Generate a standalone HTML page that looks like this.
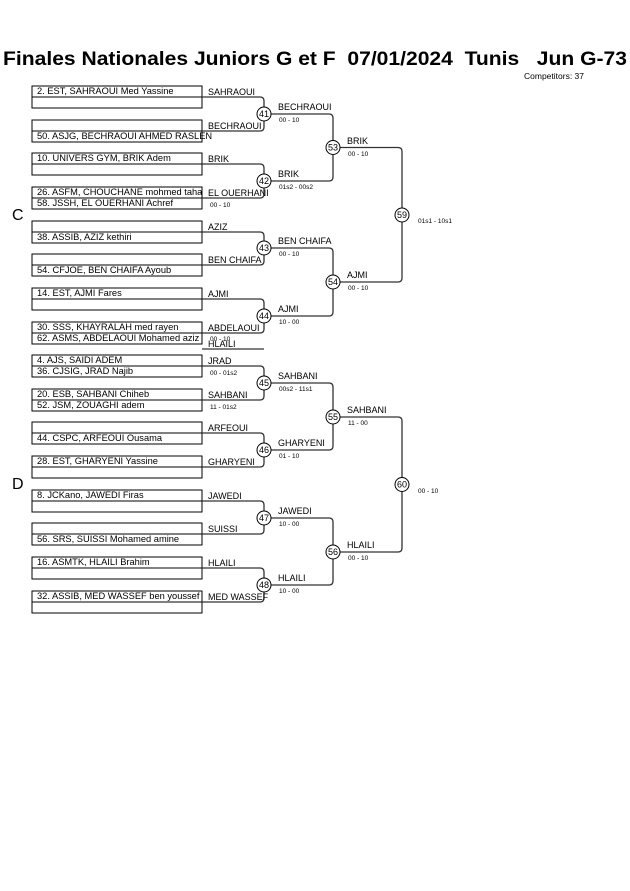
<!DOCTYPE html>
<html><head><meta charset="utf-8"><style>
html,body{margin:0;padding:0;background:#fff;}
svg{display:block;font-family:"Liberation Sans",Arial,sans-serif;}
.b{fill:none;stroke:#000;stroke-width:1}
.l{fill:none;stroke:#333;stroke-width:1.3}
.c{fill:#fff;stroke:#000;stroke-width:1}
.n{font-size:9.3px;fill:#000}
.w{font-size:9px;fill:#000}
.s{font-size:6.5px;fill:#000}
.cn{font-size:9px;fill:#000;text-anchor:middle}
.pre{white-space:pre}
</style></head><body>
<svg width="630" height="891" viewBox="0 0 630 891">
<text class="pre" x="3" y="65" font-size="19.5" font-weight="bold" textLength="624" lengthAdjust="spacingAndGlyphs" xml:space="preserve">Finales Nationales Juniors G et F  07/01/2024  Tunis   Jun G-73</text>
<text x="524" y="79" font-size="8.5">Competitors: 37</text>
<text x="12" y="220" font-size="16">C</text>
<text x="12" y="489" font-size="16">D</text>

<g class="b">
<rect x="32" y="86" width="170" height="22"/><line x1="32" y1="97" x2="202" y2="97"/>
<rect x="32" y="120" width="170" height="22"/><line x1="32" y1="131" x2="202" y2="131"/>
<rect x="32" y="153" width="170" height="22"/><line x1="32" y1="164" x2="202" y2="164"/>
<rect x="32" y="187" width="170" height="22"/><line x1="32" y1="198" x2="202" y2="198"/>
<rect x="32" y="221" width="170" height="22"/><line x1="32" y1="232" x2="202" y2="232"/>
<rect x="32" y="254" width="170" height="22"/><line x1="32" y1="265" x2="202" y2="265"/>
<rect x="32" y="288" width="170" height="22"/><line x1="32" y1="299" x2="202" y2="299"/>
<rect x="32" y="322" width="170" height="22"/><line x1="32" y1="333" x2="202" y2="333"/>
<rect x="32" y="355" width="170" height="22"/><line x1="32" y1="366" x2="202" y2="366"/>
<rect x="32" y="389" width="170" height="22"/><line x1="32" y1="400" x2="202" y2="400"/>
<rect x="32" y="422" width="170" height="22"/><line x1="32" y1="433" x2="202" y2="433"/>
<rect x="32" y="456" width="170" height="22"/><line x1="32" y1="467" x2="202" y2="467"/>
<rect x="32" y="490" width="170" height="22"/><line x1="32" y1="501" x2="202" y2="501"/>
<rect x="32" y="523" width="170" height="22"/><line x1="32" y1="534" x2="202" y2="534"/>
<rect x="32" y="557" width="170" height="22"/><line x1="32" y1="568" x2="202" y2="568"/>
<rect x="32" y="591" width="170" height="22"/><line x1="32" y1="602" x2="202" y2="602"/>
</g>
<line x1="202" y1="349" x2="264" y2="349" stroke="#333" stroke-width="1.3"/>

<g class="l">
<path d="M202 97H260Q264 97 264 101V107"/><path d="M202 131H260Q264 131 264 127V121"/>
<path d="M202 164H260Q264 164 264 168V174"/><path d="M202 198H260Q264 198 264 194V188"/>
<path d="M202 232H260Q264 232 264 236V241"/><path d="M202 265H260Q264 265 264 261V255"/>
<path d="M202 299H260Q264 299 264 303V309"/><path d="M202 333H260Q264 333 264 329V323"/>
<path d="M202 366H260Q264 366 264 370V376"/><path d="M202 400H260Q264 400 264 396V390"/>
<path d="M202 433H260Q264 433 264 437V443"/><path d="M202 467H260Q264 467 264 463V457"/>
<path d="M202 501H260Q264 501 264 505V511"/><path d="M202 534H260Q264 534 264 530V525"/>
<path d="M202 568H260Q264 568 264 572V578"/><path d="M202 602H260Q264 602 264 598V592"/>
<path d="M271 114H329Q333 114 333 118V140"/><path d="M271 181H329Q333 181 333 177V155"/>
<path d="M271 248H329Q333 248 333 252V275"/><path d="M271 316H329Q333 316 333 312V289"/>
<path d="M271 383H329Q333 383 333 387V410"/><path d="M271 450H329Q333 450 333 446V424"/>
<path d="M271 518H329Q333 518 333 522V545"/><path d="M271 585H329Q333 585 333 581V559"/>
<path d="M340 147.5H398Q402 147.5 402 151.5V208"/><path d="M340 282H398Q402 282 402 278V222"/>
<path d="M340 417H398Q402 417 402 421V477"/><path d="M340 552H398Q402 552 402 548V492"/>
</g>

<g class="c">
<circle cx="264" cy="114" r="7"/><circle cx="264" cy="181" r="7"/><circle cx="264" cy="248" r="7"/><circle cx="264" cy="316" r="7"/>
<circle cx="264" cy="383" r="7"/><circle cx="264" cy="450" r="7"/><circle cx="264" cy="518" r="7"/><circle cx="264" cy="585" r="7"/>
<circle cx="333" cy="147.5" r="7"/><circle cx="333" cy="282" r="7"/><circle cx="333" cy="417" r="7"/><circle cx="333" cy="552" r="7"/>
<circle cx="402" cy="215" r="7"/><circle cx="402" cy="484.5" r="7"/>
</g>
<g class="cn">
<text x="264" y="117">41</text><text x="264" y="184">42</text><text x="264" y="251">43</text><text x="264" y="319">44</text>
<text x="264" y="386">45</text><text x="264" y="453">46</text><text x="264" y="521">47</text><text x="264" y="588">48</text>
<text x="333" y="150.5">53</text><text x="333" y="285">54</text><text x="333" y="420">55</text><text x="333" y="555">56</text>
<text x="402" y="218">59</text><text x="402" y="487.5">60</text>
</g>

<g class="n">
<text x="37" y="94">2. EST, SAHRAOUI Med Yassine</text>
<text x="37" y="139">50. ASJG, BECHRAOUI AHMED RASLEN</text>
<text x="37" y="161">10. UNIVERS GYM, BRIK Adem</text>
<text x="37" y="195">26. ASFM, CHOUCHANE mohmed taha</text>
<text x="37" y="206">58. JSSH, EL OUERHANI Achref</text>
<text x="37" y="240">38. ASSIB, AZIZ kethiri</text>
<text x="37" y="273">54. CFJOE, BEN CHAIFA Ayoub</text>
<text x="37" y="296">14. EST, AJMI Fares</text>
<text x="37" y="330">30. SSS, KHAYRALAH med rayen</text>
<text x="37" y="341">62. ASMS, ABDELAOUI Mohamed aziz</text>
<text x="37" y="363">4. AJS, SAIDI ADEM</text>
<text x="37" y="374">36. CJSIG, JRAD Najib</text>
<text x="37" y="397">20. ESB, SAHBANI Chiheb</text>
<text x="37" y="408">52. JSM, ZOUAGHI adem</text>
<text x="37" y="441">44. CSPC, ARFEOUI Ousama</text>
<text x="37" y="464">28. EST, GHARYENI Yassine</text>
<text x="37" y="498">8. JCKano, JAWEDI Firas</text>
<text x="37" y="542">56. SRS, SUISSI Mohamed amine</text>
<text x="37" y="565">16. ASMTK, HLAILI Brahim</text>
<text x="37" y="599">32. ASSIB, MED WASSEF ben youssef</text>
</g>

<g class="w">
<text x="208" y="95">SAHRAOUI</text><text x="208" y="129">BECHRAOUI</text>
<text x="208" y="162">BRIK</text><text x="208" y="196">EL OUERHANI</text>
<text x="208" y="230">AZIZ</text><text x="208" y="263">BEN CHAIFA</text>
<text x="208" y="297">AJMI</text><text x="208" y="331">ABDELAOUI</text>
<text x="208" y="347">HLAILI</text>
<text x="208" y="364">JRAD</text><text x="208" y="398">SAHBANI</text>
<text x="208" y="431">ARFEOUI</text><text x="208" y="465">GHARYENI</text>
<text x="208" y="499">JAWEDI</text><text x="208" y="532">SUISSI</text>
<text x="208" y="566">HLAILI</text><text x="208" y="600">MED WASSEF</text>
<text x="278" y="110">BECHRAOUI</text><text x="278" y="177">BRIK</text>
<text x="278" y="244">BEN CHAIFA</text><text x="278" y="312">AJMI</text>
<text x="278" y="379">SAHBANI</text><text x="278" y="446">GHARYENI</text>
<text x="278" y="514">JAWEDI</text><text x="278" y="581">HLAILI</text>
<text x="347" y="144">BRIK</text><text x="347" y="278">AJMI</text>
<text x="347" y="413">SAHBANI</text><text x="347" y="548">HLAILI</text>
</g>

<g class="s">
<text x="210" y="207">00 - 10</text>
<text x="210" y="341">00 - 10</text>
<text x="210" y="375">00 - 01s2</text>
<text x="210" y="409">11 - 01s2</text>
<text x="279" y="122">00 - 10</text><text x="279" y="189">01s2 - 00s2</text>
<text x="279" y="256">00 - 10</text><text x="279" y="324">10 - 00</text>
<text x="279" y="391">00s2 - 11s1</text><text x="279" y="458">01 - 10</text>
<text x="279" y="526">10 - 00</text><text x="279" y="593">10 - 00</text>
<text x="348" y="156">00 - 10</text><text x="348" y="290">00 - 10</text>
<text x="348" y="425">11 - 00</text><text x="348" y="560">00 - 10</text>
<text x="418" y="223">01s1 - 10s1</text><text x="418" y="493">00 - 10</text>
</g>
</svg>
</body></html>
